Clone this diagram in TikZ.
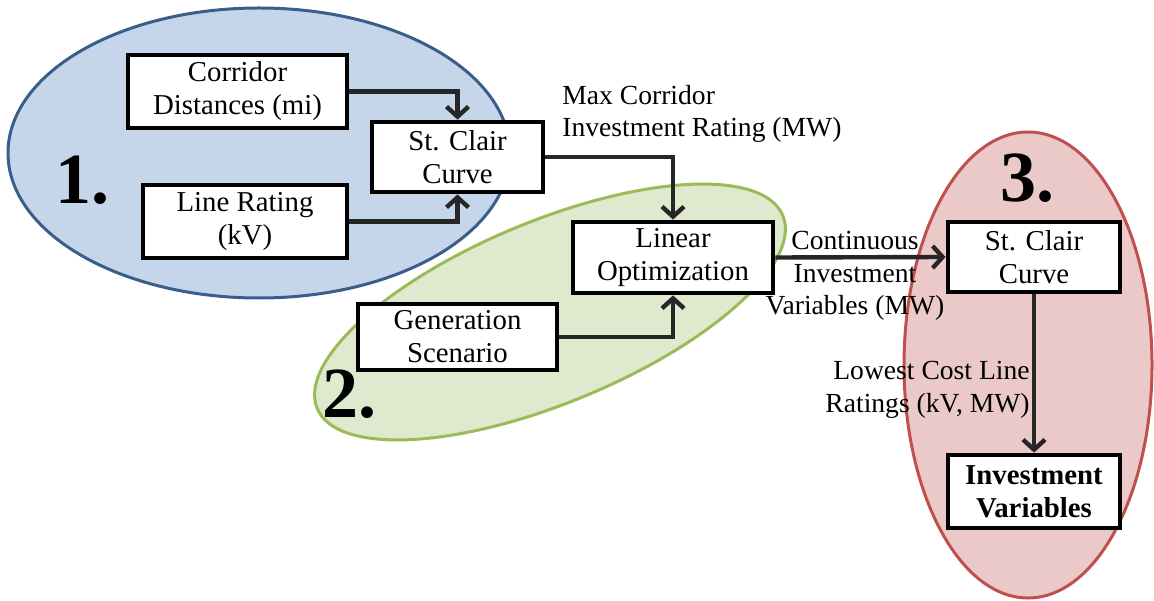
\documentclass[tikz,border=0pt]{standalone}
\usepackage{fontspec}
\setmainfont{Liberation Serif}
\usetikzlibrary{arrows.meta}
\definecolor{zoneAfill}{HTML}{C6D6EA}
\definecolor{zoneAline}{HTML}{3A5E8C}
\definecolor{zoneBfill}{HTML}{DFE9CE}
\definecolor{zoneBline}{HTML}{9BBB59}
\definecolor{zoneCfill}{HTML}{EBC9C9}
\definecolor{zoneCline}{HTML}{C0504D}
\begin{document}
\begin{tikzpicture}[x=0.5pt,y=0.5pt,
    font=\fontsize{14.4}{16.5}\selectfont,
    box/.style={draw=black, line width=2.4pt, fill=white, align=center, inner sep=0pt},
    flow/.style={draw=black!85, line width=2.2pt, -{Straight Barb[length=5pt,width=11pt,line width=2.2pt]}},
    zone/.style={line width=1.5pt},
    lbl/.style={inner sep=0pt, font=\fontsize{13.8}{16.25}\selectfont},
    stage/.style={font=\fontsize{36}{40}\selectfont\bfseries}]
     \useasboundingbox[fill=white] (0,0) rectangle (1154,600);
     % the three stages
     \filldraw[zone, fill=zoneAfill, draw=zoneAline] (259,447) ellipse [x radius=251, y radius=145];
     \filldraw[zone, fill=zoneBfill, draw=zoneBline, rotate around={22.5:(550,288)}] (550,288) ellipse [x radius=252, y radius=91];
     \filldraw[zone, fill=zoneCfill, draw=zoneCline] (1028,235) ellipse [x radius=124, y radius=233];
     \node[stage] (one) at (82,420) {1.};
     \node[stage] (two) at (349,206) {2.};
     \node[stage] (three) at (1027,422) {3.};
     % boxes
     \node[box, minimum width=109.5pt, minimum height=36.5pt] (corridor) at (237.5,508.5) {Corridor\\Distances (mi)};
     \node[box, minimum width=102pt, minimum height=36.5pt] (rating) at (245,378.5) {Line Rating\\(kV)};
     \node[box, minimum width=85.5pt, minimum height=35pt] (clairA) at (457.5,443) {St. Clair\\Curve};
     \node[box, minimum width=100pt, minimum height=35.5pt] (linopt) at (673,342.5) {Linear\\Optimization};
     \node[box, minimum width=99.5pt, minimum height=33pt] (genscen) at (457.5,263) {Generation\\Scenario};
     \node[box, minimum width=86pt, minimum height=35pt] (clairB) at (1034,343) {St. Clair\\Curve};
     \node[box, minimum width=86pt, minimum height=36.5pt, font=\fontsize{14.4}{16.5}\selectfont\bfseries] (invvar) at (1034,108.5) {Investment\\Variables};
     % connectors
     \draw[flow] (corridor.east) -| (clairA.north);
     \draw[flow] (rating.east) -| (clairA.south);
     \draw[flow] (clairA.east) -| (linopt.north);
     \draw[flow] (genscen.east) -| (linopt.south);
     \draw[flow] (linopt.east) -- (clairB.west);
     \draw[flow] (clairB.south) -- (invvar.north);
     % labels
     \node[lbl, align=left, anchor=west] (maxlbl) at (562,486) {Max Corridor\\Investment Rating (MW)};
     \node[lbl, align=center] (contlbl) at (855,324) {Continuous\\Investment\\Variables (MW)};
     \node[lbl, align=right, anchor=east] (lowlbl) at (1030,210) {Lowest Cost Line\\Ratings (kV, MW)};
\end{tikzpicture}
\end{document}
